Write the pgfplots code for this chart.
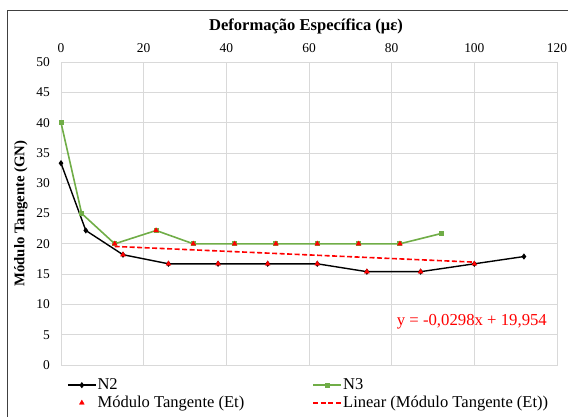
\documentclass[border=0pt]{standalone}
\usepackage{pgfplots}
\pgfplotsset{compat=1.18}
\usepackage{fontspec}
\setmainfont{Liberation Serif}
\definecolor{ngreen}{HTML}{70AD47}
\definecolor{gridc}{HTML}{D9D9D9}
\definecolor{framec}{HTML}{404040}
\begin{document}
\begin{tikzpicture}[x=1bp,y=1bp]
\useasboundingbox (0,0) rectangle (568,416);
\draw[framec, line width=0.9bp] (7,-20) -- (7,406) -- (600,406);
\node[font=\fontsize{16.6}{19}\selectfont\bfseries, anchor=base] at (306,386) {Deformação Específica (με)};
\begin{axis}[
  at={(61bp,51bp)}, anchor=south west,
  scale only axis, width=496bp, height=303bp,
  xmin=0, xmax=120, ymin=0, ymax=50,
  xtick={0,20,...,120}, ytick={0,5,...,50},
  xticklabel pos=upper,
  grid=major, grid style={gridc, line width=0.8bp},
  axis line style={gridc, line width=0.8bp},
  tick style={draw=none},
  /pgf/number format/assume math mode=true,
  ticklabel style={font=\fontsize{13.5}{16}\selectfont},
  xticklabel style={anchor=base, inner sep=0pt, yshift=10bp},
  yticklabel style={anchor=east, inner sep=0pt, xshift=-11bp},
  legend columns=2,
  legend cell align=left,
  legend style={draw=none, fill=none, at={(axis description cs:0.012,-0.042)}, anchor=north west,
    font=\fontsize{16.6}{19}\selectfont, row sep=3bp, inner sep=0pt,
    nodes={inner sep=1bp}},
  legend image code/.code={\draw[mark repeat=2,mark phase=2,#1] plot coordinates {(0bp,0bp) (14bp,0bp) (28bp,0bp)};},
  clip=false,
]
\addplot[black, line width=1.4bp, mark=diamond*, mark size=2bp, mark options={solid}] coordinates {
 (0,33.3) (6,22.2) (15,18.2) (26,16.7) (38,16.7) (50,16.7) (62,16.7) (74,15.4) (87,15.4) (100,16.7) (112,17.9)};
\addlegendentry{\makebox[214bp][l]{N2}}
\addplot[ngreen, line width=1.6bp, mark=square*, mark size=1.7bp, mark options={solid}] coordinates {
 (0,40) (5,25) (13,20) (23,22.2) (32,20) (42,20) (52,20) (62,20) (72,20) (82,20) (92,21.7)};
\addlegendentry{N3}
\addplot[only marks, red, mark=triangle*, mark size=2.8bp] coordinates {
 (13,20) (15,18.2) (23,22.2) (26,16.7) (32,20) (38,16.7) (42,20) (50,16.7) (52,20) (62,16.7) (62,20) (72,20) (74,15.4) (82,20) (87,15.4) (100,16.7)};
\addlegendentry{\makebox[214bp][l]{Módulo Tangente (Et)}}
\addplot[red, line width=1.6bp, dash pattern=on 5bp off 2.5bp] coordinates {(13,19.567) (100,16.974)};
\addlegendentry{Linear (Módulo Tangente (Et))}
\node[red, font=\fontsize{16.8}{19}\selectfont] at (axis cs:99.4,7.1) {y = -0,0298x + 19,954};
\path (rel axis cs:0,0.5) ++(-40bp,0) node[rotate=90, font=\fontsize{14.8}{17}\selectfont\bfseries] {Módulo Tangente (GN)};
\end{axis}
\end{tikzpicture}
\end{document}
